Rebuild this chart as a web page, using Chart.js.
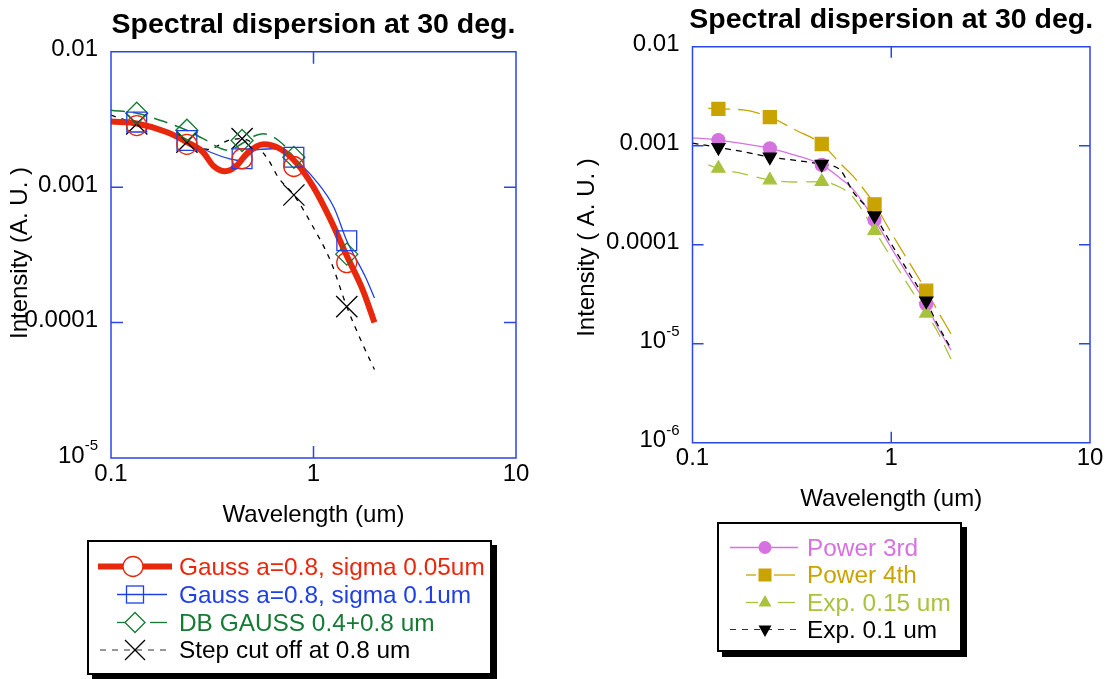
<!DOCTYPE html>
<html><head><meta charset="utf-8">
<script src="https://cdn.jsdelivr.net/npm/chart.js@4.4.1/dist/chart.umd.min.js"></script>
<style>
html,body{margin:0;padding:0;background:#fff;width:1107px;height:679px;overflow:hidden;font-family:"Liberation Sans",Arial,Helvetica,sans-serif;}
canvas{position:absolute;left:0;top:0;}
.box{position:absolute;background:#fff;border:2px solid #000;box-shadow:5px 5px 0 #000;box-sizing:border-box;}
.lt{position:absolute;font-size:24.4px;line-height:24px;white-space:nowrap;}
#ov{position:absolute;left:0;top:0;}
</style></head><body>
<canvas id="c1" width="1107" height="679"></canvas>
<canvas id="c2" width="1107" height="679"></canvas>
<div id="legends"></div>
<script>
// ---------------- DATA ----------------
// Left chart
const leftMarkX   = [0.134, 0.237, 0.444, 0.80, 1.46];
const redMarkY    = [0.00285, 0.00207, 0.00162, 0.00142, 0.000277];
const blueMarkY   = [0.00302, 0.00221, 0.00162, 0.00166, 0.000402];
const greenMarkY  = [0.00351, 0.00263, 0.00221, 0.00166, 0.00032];
const blackMarkY  = [0.00293, 0.00215, 0.00228, 0.000875, 0.000131];

const redCurveX   = [0.1, 0.134, 0.188, 0.237, 0.285, 0.32, 0.366, 0.417, 0.467, 0.565, 0.683, 0.83, 1.0, 1.21, 1.46, 1.76, 2.0];
const redCurveY   = [0.00305, 0.00295, 0.00255, 0.00215, 0.00181, 0.00144, 0.00131, 0.00144, 0.00176, 0.00207, 0.00192, 0.00149, 0.00100, 0.00058, 0.000311, 0.000171, 0.0001];
const blueCurveX  = [0.1, 0.134, 0.188, 0.237, 0.31, 0.386, 0.444, 0.51, 0.63, 0.80, 1.04, 1.26, 1.46, 1.81, 2.0];
const blueCurveY  = [0.0031, 0.00302, 0.00259, 0.00221, 0.00181, 0.00162, 0.00157, 0.00187, 0.00192, 0.00162, 0.00109, 0.00071, 0.000402, 0.000215, 0.000152];
const greenCurveX = [0.1, 0.134, 0.188, 0.237, 0.285, 0.38, 0.444, 0.5, 0.565, 0.7, 0.80, 1.0, 1.2, 1.46, 1.7, 2.0];
const greenCurveY = [0.0037, 0.00351, 0.0030, 0.00263, 0.00228, 0.00187, 0.0021, 0.00235, 0.00248, 0.0021, 0.00166, 0.00105, 0.00062, 0.00032, 0.00019, 0.000112];
const blackCurveX = [0.1, 0.134, 0.188, 0.237, 0.3, 0.38, 0.444, 0.53, 0.6, 0.67, 0.80, 0.98, 1.22, 1.46, 1.75, 2.0];
const blackCurveY = [0.0034, 0.00293, 0.0025, 0.00215, 0.0019, 0.00221, 0.00228, 0.00197, 0.00158, 0.00118, 0.000875, 0.00053, 0.00028, 0.000131, 0.000069, 0.000045];

// Right chart
const rightMarkX   = [0.135, 0.245, 0.447, 0.824, 1.50];
const pinkMarkY    = [0.00114, 0.00094, 0.00064, 0.000178, 2.5e-5];
const goldMarkY    = [0.00235, 0.00194, 0.00104, 0.000256, 3.43e-5];
const lgreenMarkY  = [0.00059, 0.00045, 0.000433, 0.000139, 2.03e-5];
const blackRMarkY  = [0.00096, 0.00077, 0.00065, 0.000196, 2.7e-5];

const rightCurveX  = [0.1, 0.12, 0.135, 0.18, 0.245, 0.33, 0.447, 0.553, 0.644, 0.824, 1.0, 1.2, 1.5, 1.7, 2.0];
const pinkCurveY   = [0.0012, 0.00117, 0.00114, 0.00105, 0.00094, 0.0008, 0.00064, 0.00047, 0.00036, 0.000178, 9.3e-5, 5.1e-5, 2.5e-5, 1.5e-5, 8.6e-6];
const goldCurveY   = [null, 0.0024, 0.00235, 0.0023, 0.00194, 0.00144, 0.00104, 0.000664, 0.00049, 0.000256, 0.000132, 7.2e-5, 3.43e-5, 2.2e-5, 1.25e-5];
const lgreenCurveY = [null, 0.00064, 0.00059, 0.00052, 0.00045, 0.00043, 0.000433, 0.00038, 0.0003, 0.000139, 7.4e-5, 4.1e-5, 2.03e-5, 1.35e-5, 7.0e-6];
const blackRCurveY = [0.00106, 0.00100, 0.00096, 0.00087, 0.00077, 0.00071, 0.00065, 0.00057, 0.00034, 0.000196, 1.02e-4, 5.6e-5, 2.7e-5, 1.6e-5, 8.9e-6];

// Axes / ticks
const xTickVals   = [0.1, 1, 10];
const xTickLabels = ['0.1', '1', '10'];
const xInnerTicks = [1];
const leftYTickVals   = [0.01, 0.001, 0.0001, 0.00001];
const leftYTickLabels = ['0.01', '0.001', '0.0001', '10^-5'];
const leftYInner      = [0.001, 0.0001];
const rightYTickVals   = [0.01, 0.001, 0.0001, 0.00001, 0.000001];
const rightYTickLabels = ['0.01', '0.001', '0.0001', '10^-5', '10^-6'];
const rightYInner      = [0.001, 0.0001, 0.00001];

const leftNames  = ['Gauss a=0.8, sigma 0.05um', 'Gauss a=0.8, sigma 0.1um', 'DB GAUSS 0.4+0.8 um', 'Step cut off at 0.8 um'];
const rightNames = ['Power 3rd', 'Power 4th', 'Exp. 0.15 um', 'Exp. 0.1 um'];
const titleText = 'Spectral dispersion at 30 deg.';

// ---------------- STYLE ----------------
const FONT = '"Liberation Sans", Arial, Helvetica, sans-serif';
const FRAME = '#2a46e8';
const C = {red:'#e8280c', blue:'#1e40e6', green:'#157a34', black:'#000000',
           pink:'#d672e0', gold:'#c9a400', lgreen:'#a9c23e'};

function pts(xs, ys){ const out=[]; xs.forEach((x,i)=>{ if(ys[i]!=null) out.push({x:x,y:ys[i]}); }); return out; }

const decoPlugin = {
  id:'deco',
  afterDraw(chart, _a, o){
    const ctx = chart.ctx, A = chart.chartArea, xs = chart.scales.x, ys = chart.scales.y;
    ctx.save();
    ctx.strokeStyle = FRAME; ctx.lineWidth = 1.5;
    ctx.beginPath();
    ctx.rect(A.left, A.top, A.right - A.left, A.bottom - A.top);
    o.yInner.forEach(v=>{ const p = ys.getPixelForValue(v);
      ctx.moveTo(A.left, p); ctx.lineTo(A.left + o.tickLen, p);
      ctx.moveTo(A.right, p); ctx.lineTo(A.right - o.tickLen, p); });
    o.xInner.forEach(v=>{ const p = xs.getPixelForValue(v);
      ctx.moveTo(p, A.top); ctx.lineTo(p, A.top + o.tickLen);
      ctx.moveTo(p, A.bottom); ctx.lineTo(p, A.bottom - o.tickLen); });
    ctx.stroke();
    ctx.fillStyle = '#000';
    ctx.textBaseline = 'middle';
    ctx.font = '24px ' + FONT;
    ctx.textAlign = 'center';
    o.xVals.forEach((v,i)=>{ ctx.fillText(o.xLabels[i], xs.getPixelForValue(v), A.bottom + 16); });
    o.yVals.forEach((v,i)=>{
      const p = ys.getPixelForValue(v) - 2, rx = A.left - 13, lab = o.yLabels[i];
      const m = lab.split('^');
      if (m.length === 2) {
        ctx.font = '15px ' + FONT;
        const ew = ctx.measureText(m[1]).width;
        ctx.textAlign = 'left'; ctx.fillText(m[1], rx - ew, p - 10);
        ctx.font = '24px ' + FONT;
        ctx.textAlign = 'right'; ctx.fillText(m[0], rx - ew, p);
      } else { ctx.textAlign = 'right'; ctx.fillText(lab, rx, p); }
    });
    // titles
    const cx = (A.left + A.right) / 2;
    ctx.font = 'bold 28.5px ' + FONT; ctx.textAlign = 'center'; ctx.textBaseline = 'alphabetic';
    ctx.fillText(o.title, cx, o.titleY);
    ctx.font = '24px ' + FONT; ctx.textBaseline = 'middle';
    ctx.fillText(o.xTitle, cx, o.xTitleY);
    ctx.translate(o.yTitleX, o.yTitleY); ctx.rotate(-Math.PI/2);
    ctx.fillText(o.yTitle, 0, 0);
    ctx.restore();
  }
};

function lineDS(xs, ys, color, width, dash){
  return {data: pts(xs, ys), showLine:true, borderColor:color, borderWidth:width, borderDash:dash||[],
          pointRadius:0, pointHoverRadius:0, cubicInterpolationMode:'monotone', fill:false};
}
function markDS(xs, ys, color, style, r, filled, rot){
  return {data: pts(xs, ys), showLine:false, pointStyle:style, pointRadius:r, pointHoverRadius:r,
          pointRotation: rot||0, borderColor:color, pointBorderWidth:1.3, borderWidth:1.3,
          backgroundColor: filled ? color : 'rgba(0,0,0,0)'};
}
function makeChart(id, datasets, pad, yMin, deco){
  return new Chart(document.getElementById(id), {
    type:'scatter',
    data:{datasets:datasets},
    options:{
      responsive:false, animation:false, events:[],
      layout:{padding:pad},
      scales:{
        x:{type:'logarithmic', min:0.1, max:10, display:false},
        y:{type:'logarithmic', min:yMin, max:0.01, display:false}
      },
      plugins:{legend:{display:false}, tooltip:{enabled:false}, title:{display:false}, deco:deco}
    },
    plugins:[decoPlugin]
  });
}

// Left chart
makeChart('c1', [
  markDS(leftMarkX, redMarkY, C.red, 'circle', 10, false),
  markDS(leftMarkX, blueMarkY, C.blue, 'rect', 14, false),
  markDS(leftMarkX, greenMarkY, C.green, 'rectRot', 11, false),
  markDS(leftMarkX, blackMarkY, C.black, 'crossRot', 15, false),
  lineDS(redCurveX, redCurveY, C.red, 6),
  lineDS(blueCurveX, blueCurveY, C.blue, 1.3),
  lineDS(greenCurveX, greenCurveY, C.green, 1.5, [14, 8]),
  lineDS(blackCurveX, blackCurveY, C.black, 1.3, [5, 6])
], {left:111, top:51.7, right:1107-516, bottom:679-458}, 1e-5,
{title:titleText, titleY:33, xTitle:'Wavelength (um)', xTitleY:515, yTitle:'Intensity (A. U. )', yTitleX:20, yTitleY:253,
 xVals:xTickVals, xLabels:xTickLabels, xInner:xInnerTicks, yVals:leftYTickVals, yLabels:leftYTickLabels, yInner:leftYInner, tickLen:12});

// Right chart
makeChart('c2', [
  markDS(rightMarkX, blackRMarkY, C.black, 'triangle', 7.5, true, 180),
  markDS(rightMarkX, lgreenMarkY, C.lgreen, 'triangle', 7.5, true),
  markDS(rightMarkX, goldMarkY, C.gold, 'rect', 9.2, true),
  markDS(rightMarkX, pinkMarkY, C.pink, 'circle', 6.5, true),
  lineDS(rightCurveX, blackRCurveY, C.black, 1.3, [6, 5]),
  lineDS(rightCurveX, lgreenCurveY, C.lgreen, 1.3, [16, 9]),
  lineDS(rightCurveX, goldCurveY, C.gold, 1.3, [22, 8]),
  lineDS(rightCurveX, pinkCurveY, C.pink, 1.3)
], {left:692.5, top:46.7, right:1107-1090, bottom:679-442.7}, 1e-6,
{title:titleText, titleY:28, xTitle:'Wavelength (um)', xTitleY:499, yTitle:'Intensity ( A. U. )', yTitleX:587, yTitleY:247.5,
 xVals:xTickVals, xLabels:xTickLabels, xInner:xInnerTicks, yVals:rightYTickVals, yLabels:rightYTickLabels, yInner:rightYInner, tickLen:11});

// ---------------- LEGENDS (HTML + SVG samples) ----------------
const L = document.getElementById('legends');
function box(l,t,r,b){ const d=document.createElement('div'); d.className='box';
  d.style.cssText=`left:${l}px;top:${t}px;width:${r-l}px;height:${b-t}px;`; L.appendChild(d); }
box(87, 540, 492, 675);
box(717, 522, 962, 652);
const NS='http://www.w3.org/2000/svg';
const svg=document.createElementNS(NS,'svg'); svg.setAttribute('id','ov'); svg.setAttribute('width','1107'); svg.setAttribute('height','679');
L.appendChild(svg);
function el(tag, attrs){ const e=document.createElementNS(NS,tag); for(const k in attrs) e.setAttribute(k, attrs[k]); svg.appendChild(e); return e; }
function seg(x1,x2,y,color,w,dash){ el('line',{x1:x1,x2:x2,y1:y,y2:y,stroke:color,'stroke-width':w,'stroke-dasharray':dash||'none'}); }
function text(x,cy,str,color){ const d=document.createElement('div'); d.className='lt';
  d.style.left=x+'px'; d.style.top=(cy-12)+'px'; d.style.color=color; d.textContent=str; L.appendChild(d); }

// left legend rows
let y=566.5;
seg(98,172,y,C.red,6);
el('circle',{cx:133,cy:y,r:10,fill:'#fff',stroke:C.red,'stroke-width':1.3});
text(179,y,leftNames[0],C.red);
y=594.5;
seg(117,167,y,C.blue,1.3);
el('rect',{x:126.5,y:y-8.5,width:17,height:17,fill:'none',stroke:C.blue,'stroke-width':1.3});
text(179,y,leftNames[1],C.blue);
y=622.5;
seg(117,127,y,C.green,1.3); seg(150,167,y,C.green,1.3);
el('polygon',{points:`${135-10},${y} ${135},${y-10} ${135+10},${y} ${135},${y+10}`,fill:'#fff',stroke:C.green,'stroke-width':1.3});
text(179,y,leftNames[2],C.green);
y=650;
seg(100,170,y,'#333',1.2,'6 6');
el('line',{x1:125,y1:y-10,x2:145,y2:y+10,stroke:'#000','stroke-width':1.3});
el('line',{x1:125,y1:y+10,x2:145,y2:y-10,stroke:'#000','stroke-width':1.3});
text(179,y,leftNames[3],'#000');

// right legend rows
y=547.5;
seg(730,798,y,C.pink,1.3);
el('circle',{cx:765,cy:y,r:6.5,fill:C.pink});
text(807,y,rightNames[0],C.pink);
y=575;
seg(746,756,y,C.gold,1.3); seg(774,795,y,C.gold,1.3);
el('rect',{x:758.5,y:y-6.5,width:13,height:13,fill:C.gold});
text(807,y,rightNames[1],C.gold);
y=602.5;
seg(746,758,y,C.lgreen,1.3); seg(778,795,y,C.lgreen,1.3);
el('polygon',{points:`${765},${y-7.5} ${765+6.5},${y+4} ${765-6.5},${y+4}`,fill:C.lgreen});
text(807,y,rightNames[2],C.lgreen);
y=629.5;
seg(730,798,y,'#333',1.2,'6 6');
el('polygon',{points:`${765},${y+7.5} ${765+6.5},${y-4} ${765-6.5},${y-4}`,fill:'#000'});
text(807,y,rightNames[3],'#000');
</script>
</body></html>
